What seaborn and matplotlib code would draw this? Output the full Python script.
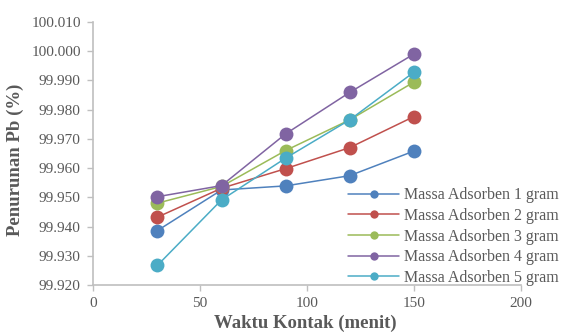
import pandas as pd
import numpy as np
import seaborn as sns
import matplotlib.pyplot as plt
from matplotlib.ticker import FormatStrFormatter

# data
waktu = [30, 60, 90, 120, 150]
massa_1 = [99.9386, 99.9525, 99.9539, 99.9574, 99.9658]
massa_2 = [99.9432, 99.9531, 99.9598, 99.9670, 99.9776]
massa_3 = [99.9480, 99.9537, 99.9660, 99.9765, 99.9894]
massa_4 = [99.9502, 99.9540, 99.9717, 99.9859, 99.9990]
massa_5 = [99.9267, 99.9491, 99.9634, 99.9765, 99.9928]
labels = ["Massa Adsorben 1 gram", "Massa Adsorben 2 gram", "Massa Adsorben 3 gram",
          "Massa Adsorben 4 gram", "Massa Adsorben 5 gram"]
colors = ["#4F81BD", "#C0504D", "#9BBB59", "#8064A2", "#4BACC6"]

rows = []
for lab, vals in zip(labels, [massa_1, massa_2, massa_3, massa_4, massa_5]):
    for w, v in zip(waktu, vals):
        rows.append({"waktu": w, "penurunan": v, "seri": lab})
df = pd.DataFrame(rows)

sns.set_style("white")
plt.rcParams['font.family'] = ['Liberation Serif', 'DejaVu Serif']
text_col = "#595959"
axis_col = "#BFBFBF"

fig = plt.figure(figsize=(5.64, 3.36), dpi=100)
ax = fig.add_axes([0.1655, 0.152, 0.7575, 0.7825])

sns.lineplot(data=df, x="waktu", y="penurunan", hue="seri", palette=colors,
             marker="o", markersize=10, markeredgewidth=0, linewidth=1.1,
             ax=ax, legend=True)

ax.set_xlim(0, 200)
ax.set_ylim(99.920, 100.010)
ax.set_xticks([0, 50, 100, 150, 200])
ax.set_yticks(np.arange(99.920, 100.0101, 0.010))
ax.yaxis.set_major_formatter(FormatStrFormatter('%.3f'))

for s in ["top", "right"]:
    ax.spines[s].set_visible(False)
for s in ["left", "bottom"]:
    ax.spines[s].set_color(axis_col)
    ax.spines[s].set_linewidth(1.2)
ax.tick_params(axis="both", direction="out", length=4, width=1, color=axis_col,
               labelcolor=text_col, labelsize=11, pad=5, left=True, bottom=True)

ax.set_xlabel("Waktu Kontak (menit)", fontsize=13.5, fontweight="bold", color=text_col)
ax.set_ylabel("Penurunan Pb (%)", fontsize=13.5, fontweight="bold", color=text_col)
ax.xaxis.set_label_coords(0.4965, -0.112)
ax.yaxis.set_label_coords(-0.163, 0.475)

handles, labs = ax.get_legend_handles_labels()
leg = ax.legend(handles, labs, loc="lower left", bbox_to_anchor=(0.603, 0.126),
                bbox_transform=fig.transFigure, frameon=False, fontsize=11.5,
                borderpad=0, handlelength=3.2, handletextpad=0.3, labelspacing=0.285)
for line in leg.get_lines():
    line.set_markersize(6)
for t in leg.get_texts():
    t.set_color(text_col)

fig.savefig("out.png", dpi=100)
